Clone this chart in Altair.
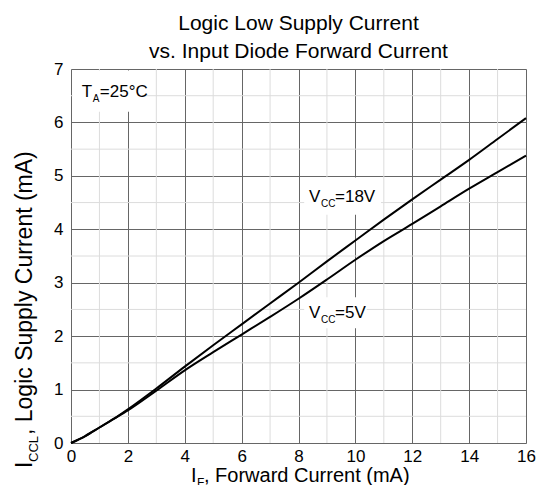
import altair as alt
import pandas as pd

# ---- data ----
x_if = [0, 0.5, 1, 1.5, 2, 3, 4, 5, 6, 7, 8, 9, 10, 11, 12, 13, 14, 15, 16]
y_18v = [0, 0.13, 0.29, 0.45, 0.63, 1.02, 1.43, 1.83, 2.22, 2.61, 3.0, 3.4, 3.79, 4.18, 4.56, 4.93, 5.3, 5.69, 6.08]
y_5v = [0, 0.13, 0.29, 0.45, 0.61, 0.98, 1.36, 1.70, 2.03, 2.36, 2.70, 3.06, 3.43, 3.78, 4.10, 4.43, 4.76, 5.07, 5.38]
series_names = ["VCC=18V", "VCC=5V"]

x_ticks = [0, 2, 4, 6, 8, 10, 12, 14, 16]
y_ticks = [0, 1, 2, 3, 4, 5, 6, 7]
x_minor = [1, 3, 5, 7, 9, 11, 13, 15]
y_minor = [0.5, 1.5, 2.5, 3.5, 4.5, 5.5, 6.5]

title_lines = ["Logic Low Supply Current", "vs. Input Diode Forward Current"]

df = pd.DataFrame({
    "IF": x_if + x_if,
    "ICC": y_18v + y_5v,
    "series": [series_names[0]] * len(x_if) + [series_names[1]] * len(x_if),
})

W, H = 455, 374
FONT = "Liberation Sans"

xs = alt.Scale(domain=[0, 16], nice=False, zero=False)
ys = alt.Scale(domain=[0, 7], nice=False, zero=False)

x_axis = alt.Axis(values=x_ticks, grid=True, gridColor="#666666", gridWidth=1, ticks=False,
                  domain=False, labelFontSize=17, labelFont=FONT, labelColor="black",
                  labelPadding=5, labelFlush=False, format="d", title=None)
y_axis = alt.Axis(values=y_ticks, grid=True, gridColor="#666666", gridWidth=1, ticks=False,
                  domain=False, labelFontSize=17, labelFont=FONT, labelColor="black",
                  labelPadding=8, labelFlush=False, format="d", title=None)

minor_v = alt.Chart(pd.DataFrame({"x": x_minor})).mark_rule(color="#dcdcdc", strokeWidth=1).encode(
    x=alt.X("x:Q", scale=xs, axis=x_axis))
minor_h = alt.Chart(pd.DataFrame({"y": y_minor})).mark_rule(color="#dcdcdc", strokeWidth=1).encode(
    y=alt.Y("y:Q", scale=ys, axis=y_axis))


def box(x1, x2, y1, y2):
    return alt.Chart(pd.DataFrame({"k": [0]})).mark_rect(fill="white").encode(
        x=alt.X(datum=x1, scale=xs), x2=alt.datum(x2),
        y=alt.Y(datum=y1, scale=ys), y2=alt.datum(y2))


boxes = [box(0.05, 2.5, 6.2, 6.97), box(8.2, 10.9, 4.27, 4.97), box(8.2, 10.4, 2.15, 2.73)]

lines = alt.Chart(df).mark_line(color="black", strokeWidth=2, interpolate="monotone").encode(
    x=alt.X("IF:Q", scale=xs, axis=x_axis),
    y=alt.Y("ICC:Q", scale=ys, axis=y_axis),
    detail="series:N")


def dtext(txt, xv, yv, size, dx=0, dy=0):
    return alt.Chart(pd.DataFrame({"k": [0]})).mark_text(
        text=txt, font=FONT, fontSize=size, color="black", align="left",
        baseline="alphabetic", dx=dx, dy=dy).encode(
        x=alt.X(datum=xv, scale=xs), y=alt.Y(datum=yv, scale=ys))


def ptext(txt, px, py, size, dx=0, dy=0, angle=0, align="left"):
    return alt.Chart(pd.DataFrame({"k": [0]})).mark_text(
        text=txt, font=FONT, fontSize=size, color="black", align=align,
        baseline="alphabetic", dx=dx, dy=dy, angle=angle).encode(
        x=alt.value(px), y=alt.value(py))


labels = [
    dtext("T", 0.38, 6.48, 17),
    dtext("A", 0.38, 6.48, 10, dx=11, dy=5),
    dtext("=25°C", 0.38, 6.48, 17, dx=18),
    dtext("V", 8.37, 4.51, 17),
    dtext("CC", 8.37, 4.51, 10, dx=12, dy=5),
    dtext("=18V", 8.37, 4.51, 17, dx=26),
    dtext("V", 8.37, 2.34, 17),
    dtext("CC", 8.37, 2.34, 10, dx=12, dy=5),
    dtext("=5V", 8.37, 2.34, 17, dx=26),
]

titles = [
    ptext(title_lines[0], W / 2, -39, 21, align="center"),
    ptext(title_lines[1], W / 2, -11, 21, align="center"),
    # x axis title
    ptext("I", 120, H + 39, 20),
    ptext("F", 120, H + 39, 12, dx=6, dy=5),
    ptext(", Forward Current (mA)", 120, H + 39, 20, dx=13),
    # y axis title (rotated)
    ptext("I", -39, 399, 23, angle=270),
    ptext("CCL", -39, 399, 13, dx=6, dy=6, angle=270),
    ptext(", Logic Supply Current (mA)", -39, 399, 23, dx=33, angle=270),
]

chart = alt.layer(minor_v, minor_h, *boxes, lines, *labels, *titles).properties(
    width=W, height=H,
    autosize=alt.AutoSizeParams(type="none"),
    padding={"left": 63, "top": 61, "right": 10, "bottom": 42},
).configure_view(stroke="black", strokeWidth=2).configure(background="white")

chart.save("out.html", embed_options={"renderer": "svg", "actions": False})
